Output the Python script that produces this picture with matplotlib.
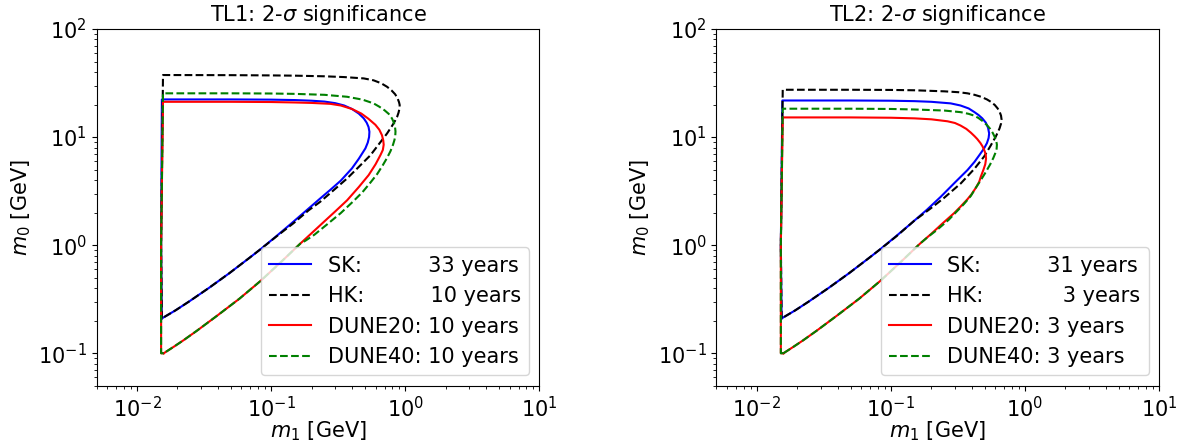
import matplotlib
matplotlib.use("Agg")
import matplotlib.pyplot as plt

#contour points, m1 and m0 in GeV
#each contour is closed: vertical edge, flat top, rounded tip, lower branch back to start

#TL1 panel
tl1_sk_m1 = [0.0153, 0.0151, 0.0153, 0.05, 0.1, 0.15, 0.2, 0.25, 0.3, 0.35, 0.4, 0.45, 0.49, 0.515, 0.532, 0.54, 0.537, 0.525, 0.504, 0.475, 0.45, 0.40, 0.33, 0.276, 0.23, 0.185, 0.139, 0.11, 0.0837, 0.0686, 0.0486, 0.0344, 0.0244, 0.0194, 0.0153]
tl1_sk_m0 = [0.21, 1.0, 22.3, 22.3, 22.2, 22.0, 21.7, 21.3, 20.6, 19.6, 18.2, 16.5, 14.9, 13.6, 12.4, 11.2, 10.0, 8.9, 7.86, 7.0, 6.3, 5.13, 3.95, 3.25, 2.68, 2.12, 1.56, 1.22, 0.922, 0.761, 0.549, 0.403, 0.301, 0.25, 0.21]

tl1_hk_m1 = [0.0153, 0.0151, 0.0156, 0.05, 0.1, 0.15, 0.25, 0.35, 0.49, 0.58, 0.66, 0.731, 0.79, 0.84, 0.875, 0.898, 0.908, 0.905, 0.89, 0.869, 0.835, 0.80, 0.731, 0.64, 0.55, 0.45, 0.368, 0.29, 0.232, 0.19, 0.147, 0.11, 0.0837, 0.0686, 0.0486, 0.0344, 0.0244, 0.0194, 0.0153]
tl1_hk_m0 = [0.21, 1.0, 37.5, 37.4, 37.2, 37.0, 36.5, 35.9, 34.9, 33.5, 31.5, 29.2, 27.0, 24.9, 22.9, 21.0, 19.8, 18.4, 16.8, 15.4, 14.0, 12.8, 10.8, 8.7, 6.8, 5.3, 4.14, 3.2, 2.52, 2.1, 1.60, 1.21, 0.922, 0.761, 0.549, 0.403, 0.301, 0.25, 0.21]

tl1_d20_m1 = [0.0158, 0.0151, 0.0151, 0.0156, 0.05, 0.1, 0.15, 0.2, 0.276, 0.33, 0.4, 0.47, 0.53, 0.598, 0.64, 0.67, 0.685, 0.69, 0.68, 0.652, 0.60, 0.533, 0.45, 0.368, 0.30, 0.244, 0.2, 0.165, 0.12, 0.083, 0.058, 0.0394, 0.028, 0.0222, 0.019, 0.0158]
tl1_d20_m0 = [0.10, 0.10, 1.0, 21.2, 21.2, 21.1, 20.9, 20.7, 20.3, 19.6, 18.2, 16.5, 14.8, 13.0, 11.7, 10.4, 9.3, 8.5, 7.6, 6.8, 5.6, 4.45, 3.45, 2.6, 2.05, 1.62, 1.29, 1.035, 0.71, 0.465, 0.32, 0.222, 0.162, 0.132, 0.116, 0.10]

tl1_d40_m1 = [0.0158, 0.0151, 0.0151, 0.0156, 0.05, 0.1, 0.15, 0.25, 0.368, 0.48, 0.58, 0.64, 0.70, 0.752, 0.795, 0.822, 0.838, 0.845, 0.842, 0.83, 0.81, 0.775, 0.73, 0.68, 0.617, 0.55, 0.48, 0.41, 0.33, 0.26, 0.21, 0.18, 0.165, 0.12, 0.083, 0.058, 0.0394, 0.028, 0.0222, 0.019, 0.0158]
tl1_d40_m0 = [0.10, 0.10, 1.0, 25.4, 25.4, 25.3, 25.1, 24.6, 23.6, 22.2, 20.5, 19.1, 17.7, 16.4, 14.9, 13.6, 12.4, 11.3, 10.3, 9.4, 8.5, 7.4, 6.4, 5.5, 4.55, 3.8, 3.1, 2.55, 1.98, 1.55, 1.25, 1.1, 1.035, 0.71, 0.465, 0.32, 0.222, 0.162, 0.132, 0.116, 0.10]

#TL2 panel
tl2_sk_m1 = [0.0153, 0.0151, 0.0155, 0.05, 0.1, 0.15, 0.2, 0.279, 0.33, 0.38, 0.417, 0.45, 0.48, 0.51, 0.53, 0.54, 0.535, 0.52, 0.495, 0.46, 0.42, 0.372, 0.30, 0.235, 0.185, 0.139, 0.11, 0.0837, 0.0686, 0.0486, 0.0344, 0.0244, 0.0194, 0.0153]
tl2_sk_m0 = [0.21, 1.0, 21.8, 21.8, 21.7, 21.5, 21.2, 20.5, 19.6, 18.4, 17.1, 16.0, 14.9, 13.6, 12.2, 10.8, 9.8, 8.8, 7.86, 6.9, 5.9, 4.95, 3.8, 2.8, 2.12, 1.56, 1.22, 0.922, 0.761, 0.549, 0.403, 0.301, 0.25, 0.21]

tl2_hk_m1 = [0.0153, 0.0151, 0.0156, 0.05, 0.1, 0.15, 0.25, 0.32, 0.372, 0.42, 0.47, 0.52, 0.556, 0.595, 0.625, 0.648, 0.662, 0.668, 0.662, 0.645, 0.605, 0.55, 0.495, 0.42, 0.332, 0.25, 0.198, 0.149, 0.11, 0.0837, 0.0686, 0.0486, 0.0344, 0.0244, 0.0194, 0.0153]
tl2_hk_m0 = [0.21, 1.0, 27.4, 27.4, 27.3, 27.1, 26.5, 26.0, 25.4, 24.6, 23.6, 22.3, 21.2, 19.8, 18.4, 17.0, 15.8, 14.6, 13.3, 12.0, 10.1, 8.2, 6.6, 5.1, 3.73, 2.75, 2.19, 1.68, 1.21, 0.922, 0.761, 0.549, 0.403, 0.301, 0.25, 0.21]

tl2_d20_m1 = [0.0158, 0.0151, 0.0151, 0.0156, 0.05, 0.1, 0.15, 0.2, 0.264, 0.30, 0.33, 0.365, 0.394, 0.42, 0.44, 0.465, 0.482, 0.50, 0.51, 0.512, 0.505, 0.49, 0.468, 0.455, 0.43, 0.40, 0.372, 0.33, 0.296, 0.244, 0.198, 0.165, 0.12, 0.083, 0.058, 0.0394, 0.028, 0.0222, 0.019, 0.0158]
tl2_d20_m0 = [0.10, 0.10, 1.0, 15.2, 15.2, 15.1, 14.9, 14.6, 14.0, 13.5, 12.8, 11.9, 11.0, 10.2, 9.6, 8.8, 8.2, 7.4, 6.8, 6.3, 5.6, 5.0, 4.3, 3.85, 3.4, 2.97, 2.66, 2.27, 1.98, 1.6, 1.26, 1.035, 0.71, 0.465, 0.32, 0.222, 0.162, 0.132, 0.116, 0.10]

tl2_d40_m1 = [0.0158, 0.0151, 0.0151, 0.0156, 0.05, 0.1, 0.15, 0.25, 0.332, 0.38, 0.417, 0.45, 0.485, 0.52, 0.55, 0.575, 0.595, 0.61, 0.617, 0.614, 0.60, 0.58, 0.55, 0.51, 0.468, 0.43, 0.394, 0.35, 0.313, 0.27, 0.22, 0.19, 0.165, 0.12, 0.083, 0.058, 0.0394, 0.028, 0.0222, 0.019, 0.0158]
tl2_d40_m0 = [0.10, 0.10, 1.0, 18.3, 18.3, 18.2, 18.0, 17.6, 17.0, 16.4, 15.8, 15.0, 14.0, 12.9, 11.9, 10.9, 10.0, 9.2, 8.5, 7.8, 7.1, 6.4, 5.6, 4.75, 4.0, 3.4, 2.85, 2.4, 2.08, 1.72, 1.38, 1.2, 1.035, 0.71, 0.465, 0.32, 0.222, 0.162, 0.132, 0.116, 0.10]

#legend labels (spaces line the years up)
tl1_labels = ["SK:          33 years", "HK:          10 years", "DUNE20: 10 years", "DUNE40: 10 years"]
tl2_labels = ["SK:          31 years", "HK:            3 years", "DUNE20: 3 years", "DUNE40: 3 years"]
titles = [r"TL1: 2-$\sigma$ significance", r"TL2: 2-$\sigma$ significance"]

colors = ["blue", "black", "red", "green"]
styles = ["-", "--", "-", "--"]

panels = [
    [(tl1_sk_m1, tl1_sk_m0), (tl1_hk_m1, tl1_hk_m0), (tl1_d20_m1, tl1_d20_m0), (tl1_d40_m1, tl1_d40_m0)],
    [(tl2_sk_m1, tl2_sk_m0), (tl2_hk_m1, tl2_hk_m0), (tl2_d20_m1, tl2_d20_m0), (tl2_d40_m1, tl2_d40_m0)],
]
labels = [tl1_labels, tl2_labels]

plt.rcParams["font.size"] = 15

fig, axes = plt.subplots(1, 2, figsize=(11.84, 4.46), dpi=100)
plt.subplots_adjust(left=0.0817, right=0.979, bottom=0.135, top=0.935, wspace=0.4)

for ax, curves, labs, title in zip(axes, panels, labels, titles):
    for (m1, m0), c, ls, lab in zip(curves, colors, styles, labs):
        ax.plot(m1, m0, color=c, linestyle=ls, linewidth=1.5, label=lab)
    ax.set_xscale("log")
    ax.set_yscale("log")
    ax.set_xlim(5e-3, 10)
    ax.set_ylim(5e-2, 100)
    ax.set_xlabel(r"$m_1$ [GeV]", labelpad=-1)
    ax.set_ylabel(r"$m_0$ [GeV]")
    ax.set_title(title, fontsize=15)
    ax.legend(loc="lower right", fontsize=15)

fig.savefig("out.png", dpi=100)
